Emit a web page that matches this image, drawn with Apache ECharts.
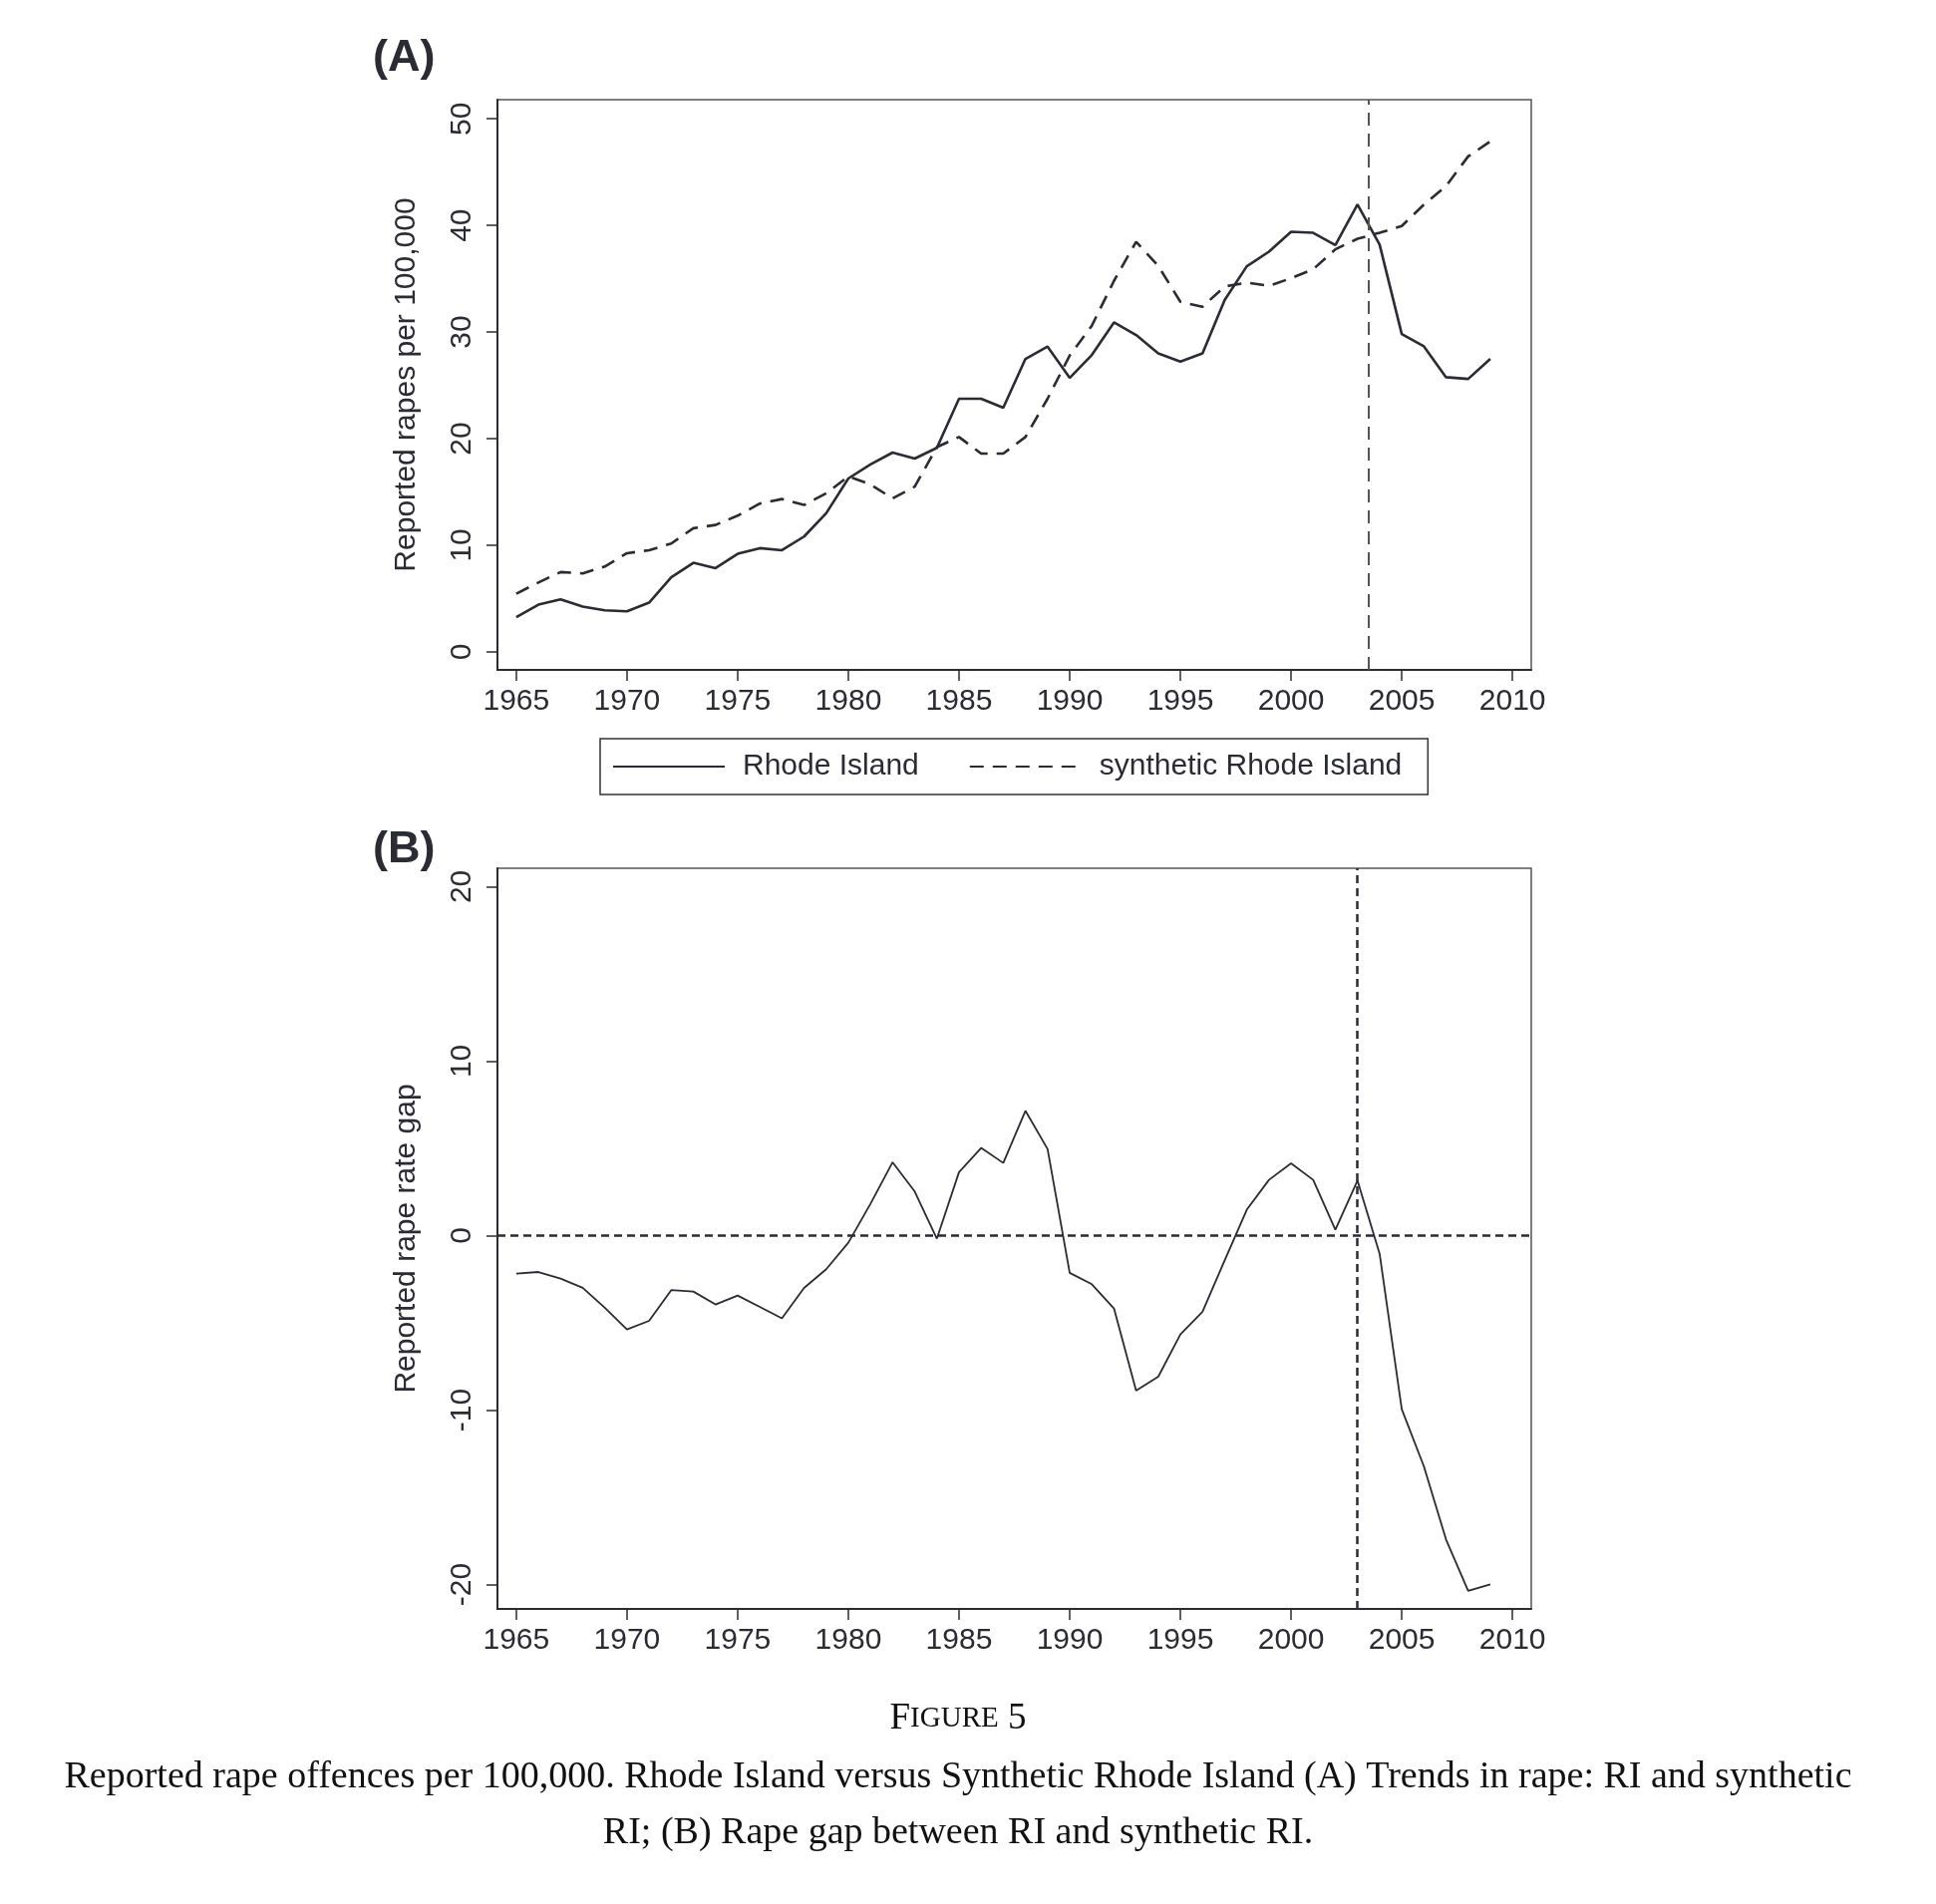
<!DOCTYPE html>
<html><head><meta charset="utf-8">
<script src="https://cdn.jsdelivr.net/npm/echarts@6/dist/echarts.min.js"></script>
<style>html,body{margin:0;padding:0;background:#fff}#c{width:1942px;height:1910px}</style>
</head><body><div id="c"></div>
<script>
const years = [1965,1966,1967,1968,1969,1970,1971,1972,1973,1974,1975,1976,1977,1978,1979,1980,1981,1982,1983,1984,1985,1986,1987,1988,1989,1990,1991,1992,1993,1994,1995,1996,1997,1998,1999,2000,2001,2002,2003,2004,2005,2006,2007,2008,2009];
const rhodeIsland = [3.24,4.42,4.92,4.24,3.89,3.80,4.61,6.98,8.35,7.85,9.19,9.72,9.53,10.81,13.0,16.26,17.57,18.69,18.13,19.13,23.74,23.74,22.9,27.48,28.63,25.7,27.85,30.9,29.72,28.0,27.23,28.0,33.0,36.17,37.54,39.41,39.31,38.16,41.96,38.2,29.81,28.66,25.76,25.6,27.48];
const syntheticRI = [5.45,6.5,7.48,7.35,8.0,9.25,9.53,10.16,11.59,11.9,12.77,13.9,14.33,13.77,14.86,16.45,15.7,14.39,15.5,19.2,20.15,18.6,18.6,20.15,23.74,27.8,30.6,34.8,38.47,36.2,32.84,32.37,34.27,34.64,34.33,35.05,35.89,37.76,38.75,39.31,39.94,41.96,43.68,46.48,47.88];
const rapeGap = [-2.18,-2.09,-2.47,-3.0,-4.14,-5.38,-4.89,-3.13,-3.21,-3.95,-3.44,-4.09,-4.75,-3.0,-1.93,-0.41,1.82,4.2,2.52,-0.18,3.63,5.02,4.16,7.15,4.96,-2.14,-2.79,-4.18,-8.89,-8.09,-5.67,-4.37,-1.42,1.48,3.19,4.14,3.19,0.33,3.15,-1.04,-9.95,-13.23,-17.42,-20.37,-19.99];
const xTicks = [1965,1970,1975,1980,1985,1990,1995,2000,2005,2010];
const yTicksA = [0,10,20,30,40,50];
const yTicksB = [-20,-10,0,10,20];
const interventionA = 2003.5;
const interventionB = 2003;
const seriesNames = ['Rhode Island','synthetic Rhode Island'];

const INK = '#2b2b33';
const FONT = '"Liberation Sans", Arial, Helvetica, sans-serif';
const SERIF = '"Liberation Serif", "Times New Roman", serif';

function pairs(vals){ return years.map((y,i)=>[y, vals[i]]); }

function xAxis(gi){
  return {
    type:'value', gridIndex:gi, min:1964.15, max:2010.85,
    axisLine:{show:true, onZero:false, lineStyle:{color:INK, width:2}},
    axisTick:{show:true, length:11, customValues:xTicks, lineStyle:{color:INK, width:1.5}},
    axisLabel:{customValues:xTicks, fontSize:30, color:INK, margin:17, fontFamily:FONT, formatter:v=>String(v)},
    splitLine:{show:false}
  };
}
function yAxis(gi, min, max, ticks, name){
  return {
    type:'value', gridIndex:gi, min:min, max:max,
    name:name, nameLocation:'middle', nameGap:76,
    nameTextStyle:{fontSize:30, color:INK, fontFamily:FONT},
    axisLine:{show:true, onZero:false, lineStyle:{color:INK, width:2}},
    axisTick:{show:true, length:11, customValues:ticks, lineStyle:{color:INK, width:1.5}},
    axisLabel:{customValues:ticks, rotate:90, fontSize:30, color:INK, margin:20, fontFamily:FONT},
    splitLine:{show:false}
  };
}

const chart = echarts.init(document.getElementById('c'), null, {renderer:'canvas'});
chart.setOption({
  animation:false,
  backgroundColor:'#fff',
  grid:[
    {left:499, top:100, width:1037, height:572, show:true, borderColor:'#555', borderWidth:1.5},
    {left:499, top:871, width:1037, height:743, show:true, borderColor:'#555', borderWidth:1.5}
  ],
  xAxis:[xAxis(0), xAxis(1)],
  yAxis:[
    yAxis(0, -1.7, 51.8, yTicksA, 'Reported rapes per 100,000'),
    yAxis(1, -21.4, 21.05, yTicksB, 'Reported rape rate gap')
  ],
  legend:{
    data:seriesNames, left:602, top:741,
    itemWidth:112, itemHeight:20, itemGap:50,
    padding:[13,26,13,12],
    borderColor:'#333', borderWidth:1.5,
    itemStyle:{opacity:0},
    textStyle:{fontSize:30, color:INK, fontFamily:FONT, padding:[0,0,0,13]}
  },
  series:[
    {name:seriesNames[0], type:'line', xAxisIndex:0, yAxisIndex:0, data:pairs(rhodeIsland),
     symbol:'none', lineStyle:{color:INK, width:2.6}, itemStyle:{color:INK},
     markLine:{silent:true, symbol:['none','none'], label:{show:false},
       lineStyle:{type:[13,8], color:'#555', width:2}, data:[{xAxis:interventionA}]}},
    {name:seriesNames[1], type:'line', xAxisIndex:0, yAxisIndex:0, data:pairs(syntheticRI),
     symbol:'none', lineStyle:{color:INK, width:2.6, type:[14,9]}, itemStyle:{color:INK}},
    {name:'gap', type:'line', xAxisIndex:1, yAxisIndex:1, data:pairs(rapeGap),
     symbol:'none', lineStyle:{color:INK, width:1.8}, itemStyle:{color:INK},
     markLine:{silent:true, symbol:['none','none'], label:{show:false},
       lineStyle:{type:[8,5], color:INK, width:2.5}, data:[{xAxis:interventionB},{yAxis:0}]}}
  ],
  graphic:[
    {type:'text', left:374, top:36, style:{text:'(A)', font:'bold 45px '+FONT, fill:INK}},
    {type:'text', left:374, top:830, style:{text:'(B)', font:'bold 45px '+FONT, fill:INK}},
    {type:'text', x:961, y:1724, style:{
      text:'{b|F}{s|IGURE}{b| 5}', align:'center', verticalAlign:'middle',
      rich:{b:{fontSize:37, fontFamily:SERIF, fill:'#111'}, s:{fontSize:29, fontFamily:SERIF, fill:'#111'}}}},
    {type:'text', x:961, y:1783, style:{
      text:'Reported rape offences per 100,000. Rhode Island versus Synthetic Rhode Island (A) Trends in rape: RI and synthetic',
      align:'center', verticalAlign:'middle', font:'38px '+SERIF, fill:'#111'}},
    {type:'text', x:961, y:1839, style:{
      text:'RI; (B) Rape gap between RI and synthetic RI.',
      align:'center', verticalAlign:'middle', font:'38px '+SERIF, fill:'#111'}}
  ]
});
</script>
</body></html>
